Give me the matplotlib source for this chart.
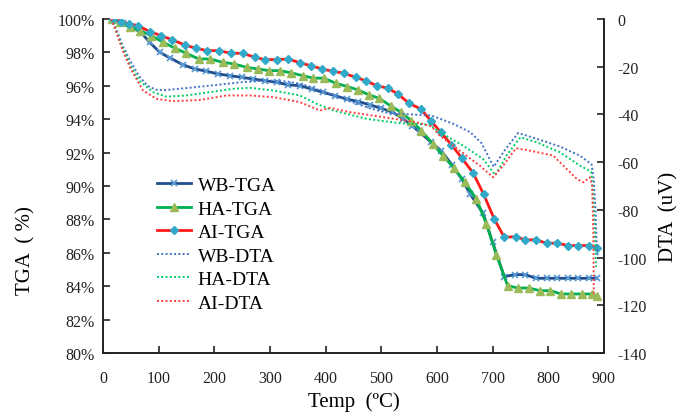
import matplotlib
matplotlib.use("Agg")
import matplotlib.pyplot as plt
from matplotlib.ticker import FuncFormatter

plt.rcParams['font.family'] = ['Liberation Serif', 'DejaVu Serif']
plt.rcParams['axes.unicode_minus'] = False

# ---------------- data ----------------
wb_tga_t = [17, 36, 53, 69, 84, 102, 121, 144, 165, 186, 207, 228, 249, 270, 291, 312, 333, 354,
            375, 396, 417, 438, 459, 480, 500, 521, 540, 555, 570, 590, 608, 627, 645, 660, 683,
            700, 721, 740, 759, 778, 797, 816, 835, 854, 873, 887]
wb_tga_v = [100, 99.76, 99.5, 99.16, 98.6, 98.0, 97.65, 97.25, 97.0, 96.87, 96.7, 96.6, 96.5, 96.4,
            96.3, 96.2, 96.05, 96.0, 95.8, 95.6, 95.4, 95.2, 95.05, 94.85, 94.65, 94.4, 94.0, 93.6,
            93.2, 92.6, 92.1, 91.26, 90.4, 89.5, 88.37, 86.63, 84.57, 84.69, 84.69, 84.47, 84.47,
            84.47, 84.47, 84.47, 84.47, 84.47]

ha_tga_t = [16, 30, 48, 66, 87, 108, 129, 150, 172, 193, 215, 236, 258, 279, 298, 318, 338, 359,
            378, 397, 418, 439, 458, 478, 496, 518, 536, 554, 572, 593, 611, 631, 650, 671, 689,
            707, 727, 745, 765, 785, 804, 823, 841, 860, 878, 888]
ha_tga_v = [100, 99.8, 99.5, 99.3, 99.0, 98.6, 98.25, 97.94, 97.6, 97.6, 97.4, 97.3, 97.1, 97.0,
            96.9, 96.9, 96.77, 96.6, 96.45, 96.45, 96.15, 95.95, 95.75, 95.45, 95.25, 94.77, 94.4,
            93.9, 93.31, 92.51, 91.81, 91.06, 90.22, 89.22, 87.72, 85.87, 84.03, 83.89, 83.89,
            83.73, 83.73, 83.53, 83.53, 83.53, 83.53, 83.4]

ai_tga_t = [18, 33, 47, 63, 84, 104, 125, 147, 167, 187, 208, 230, 251, 273, 291, 312, 333, 354,
            373, 394, 414, 433, 454, 472, 492, 512, 530, 550, 571, 589, 607, 626, 645, 665, 684,
            703, 721, 742, 759, 778, 797, 816, 836, 854, 873, 887]
ai_tga_v = [100, 99.84, 99.7, 99.6, 99.24, 99.0, 98.74, 98.44, 98.24, 98.1, 98.1, 97.94, 97.94,
            97.7, 97.56, 97.56, 97.6, 97.37, 97.2, 97.0, 96.85, 96.75, 96.5, 96.3, 96.0, 95.85,
            95.5, 94.95, 94.6, 93.91, 93.21, 92.47, 91.66, 90.78, 89.5, 88.02, 86.93, 86.96,
            86.77, 86.77, 86.57, 86.57, 86.43, 86.43, 86.43, 86.27]

wb_dta_t = [15, 25, 35, 50, 65, 80, 95, 110, 150, 200, 250, 295, 330, 360, 390, 420, 450, 480,
            510, 550, 590, 630, 660, 680, 702, 722, 746, 780, 820, 857, 878, 882, 885, 887, 889]
wb_dta_v = [0, -5, -11, -18, -24, -28, -29.7, -29.9, -29, -27.8, -26.5, -25.8, -26.2, -27.5, -30,
            -32.5, -35, -37.5, -39.3, -40, -40.5, -44, -47.5, -52, -62, -55, -47.8, -50.3, -53.4,
            -57.3, -61, -68, -80, -95, -100]

ha_dta_t = [15, 30, 48, 66, 90, 114, 150, 192, 234, 264, 306, 354, 384, 414, 474, 533, 587, 605,
            647, 683, 705, 725, 750, 779, 821, 857, 877, 881, 884, 886]
ha_dta_v = [0, -9, -19, -26, -30.7, -32.6, -32.1, -30.7, -29.3, -28.9, -30, -32.1, -35.6, -38.4,
            -41.9, -43.7, -44.3, -47.5, -53.1, -58.7, -65.5, -57.3, -49.6, -51.7, -55.9, -61.5,
            -64, -75, -90, -104]

ai_dta_t = [15, 25, 35, 50, 72, 96, 126, 174, 222, 264, 306, 354, 390, 408, 444, 504, 563, 590,
            605, 641, 677, 701, 719, 742, 767, 809, 851, 863, 875, 879, 881, 882]
ai_dta_v = [0, -6, -13, -21, -30, -33.5, -34.5, -34, -32.1, -32.1, -32.8, -34.9, -38.4, -37.3,
            -39.1, -41.2, -43.3, -45, -48.9, -55.2, -61.5, -66.4, -61.5, -54.2, -55.2, -57.3, -67,
            -68.5, -66.4, -70, -90, -116]

x_ticks = [0, 100, 200, 300, 400, 500, 600, 700, 800, 900]
tga_ticks = [80, 82, 84, 86, 88, 90, 92, 94, 96, 98, 100]
dta_ticks = [-140, -120, -100, -80, -60, -40, -20, 0]

# ---------------- figure ----------------
fig = plt.figure(figsize=(6.77, 4.14), dpi=100)
ax = fig.add_axes([0.152, 0.145, 0.740, 0.807])
ax2 = ax.twinx()

l1, = ax.plot(wb_tga_t, wb_tga_v, color='#1f4e8c', lw=2, marker='x', ms=5, mew=1.3,
              mec='#5b9bd5', label='WB-TGA', zorder=3)
l2, = ax.plot(ha_tga_t, ha_tga_v, color='#00b050', lw=2, marker='^', ms=6,
              mfc='#9bbb59', mec='#9bbb59', label='HA-TGA', zorder=3)
l3, = ax.plot(ai_tga_t, ai_tga_v, color='#ff1a1a', lw=2, marker='D', ms=4.5,
              mfc='#31a9c9', mec='#31a9c9', label='AI-TGA', zorder=3)

d1, = ax2.plot(wb_dta_t, wb_dta_v, color='#4472c4', lw=1.4, ls=(0, (1, 1.2)), label='WB-DTA')
d2, = ax2.plot(ha_dta_t, ha_dta_v, color='#00cc66', lw=1.4, ls=(0, (1, 1.2)), label='HA-DTA')
d3, = ax2.plot(ai_dta_t, ai_dta_v, color='#ff4040', lw=1.4, ls=(0, (1, 1.2)), label='AI-DTA')

ax.set_xlim(0, 900)
ax.set_ylim(80, 100)
ax2.set_ylim(-140, 0)
ax.set_xticks(x_ticks)
ax.set_yticks(tga_ticks)
ax2.set_yticks(dta_ticks)
ax.yaxis.set_major_formatter(FuncFormatter(lambda v, p: f"{int(round(v))}%"))

for a in (ax, ax2):
    a.spines['top'].set_visible(False)
    for s in a.spines.values():
        s.set_linewidth(1.2)
        s.set_color('#222222')
ax.tick_params(axis='both', direction='in', length=5, width=1.2, labelsize=11.5, colors='#222222')
ax2.tick_params(axis='y', direction='in', length=5, width=1.2, labelsize=11.5, colors='#222222')
ax.tick_params(axis='y', pad=6)
ax2.tick_params(axis='y', pad=10)
ax.tick_params(axis='x', pad=12)

ax.set_xlabel('Temp  (ºC)', fontsize=15, labelpad=4)
ax.set_ylabel('TGA  ( %)', fontsize=15)
ax2.set_ylabel('DTA  (uV)', fontsize=15)
ax.yaxis.set_label_coords(-0.135, 0.31)
ax2.yaxis.set_label_coords(1.11, 0.41)

ax.legend(handles=[l1, l2, l3, d1, d2, d3], loc='upper left', bbox_to_anchor=(0.073, 0.58),
          frameon=False, fontsize=14, handlelength=1.75, labelspacing=0.3, handletextpad=0.35)

fig.savefig('out.png', dpi=100)
